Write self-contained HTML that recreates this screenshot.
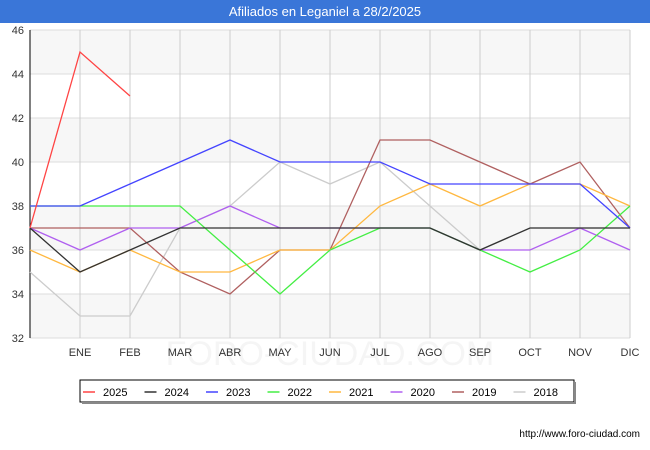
<!DOCTYPE html>
<html><head><meta charset="utf-8"><style>
body{margin:0;background:#fff;font-family:"Liberation Sans",sans-serif}
#t{position:absolute;left:0;top:0;width:650px;height:23px;background:#3a76d8;color:#fff;font-size:13px;text-align:center;line-height:23px}
</style></head><body>
<div id="t">Afiliados en Leganiel a 28/2/2025</div>
<svg id="c" width="650" height="450" style="position:absolute;left:0;top:0;z-index:-1"></svg>
<script>
const categories=["","ENE","FEB","MAR","ABR","MAY","JUN","JUL","AGO","SEP","OCT","NOV","DIC"];
const yTicks=[32,34,36,38,40,42,44,46];
const seriesNames=["2025","2024","2023","2022","2021","2020","2019","2018"];
const colors=["#ff4444","#333333","#4444ff","#44ee44","#ffb840","#b060f0","#b06060","#cccccc"];
const s2025=[37,45,43];
const s2024=[37,35,36,37,37,37,37,37,37,36,37,37,37];
const s2023=[38,38,39,40,41,40,40,40,39,39,39,39,37];
const s2022=[38,38,38,38,36,34,36,37,37,36,35,36,38];
const s2021=[36,35,36,35,35,36,36,38,39,38,39,39,38];
const s2020=[37,36,37,37,38,37,37,37,37,36,36,37,36];
const s2019=[37,37,37,35,34,36,36,41,41,40,39,40,37];
const s2018=[35,33,33,37,38,40,39,40,38,36,37,37,37];
const series=[s2025,s2024,s2023,s2022,s2021,s2020,s2019,s2018];
const svg=document.getElementById('c');const NS="http://www.w3.org/2000/svg";
const L=30,R=630,T=30,B=338;
const x=i=>L+i*(R-L)/(categories.length-1);
const y=v=>B-(v-32)*(B-T)/14;
function el(tag,a,p){const e=document.createElementNS(NS,tag);for(const k in a)e.setAttribute(k,a[k]);(p||svg).appendChild(e);return e;}
for(let i=0;i<7;i++){if(i%2==0){const r=el('rect',{x:L,y:y(yTicks[i+1]),width:R-L,height:y(yTicks[i])-y(yTicks[i+1]),fill:'#f7f7f7'});

}}
const wm=el('text',{x:330,y:365,'text-anchor':'middle','font-size':34,fill:'#f5f5f5'});wm.textContent="FORO-CIUDAD.COM";


yTicks.forEach(v=>{const g=el('line',{x1:L,x2:R,y1:y(v),y2:y(v),stroke:'#dddddd'});


const t=el('text',{x:L-6,y:y(v)+4,'text-anchor':'end','font-size':11,fill:'#333'});t.textContent=v;

});
categories.forEach((c,i)=>{if(i==0)return;const g=el('line',{x1:x(i),x2:x(i),y1:T,y2:B,stroke:'#cccccc'});


const t=el('text',{x:x(i),y:356,'text-anchor':'middle','font-size':11,fill:'#333'});t.textContent=c;

});
const ax=el('line',{x1:L,x2:L,y1:T,y2:B,stroke:'#000'});


for(let k=series.length-1;k>=0;k--){const d=series[k];
const p=el('polyline',{points:d.map((v,i)=>x(i)+','+y(v)).join(' '),fill:'none',stroke:colors[k],'stroke-width':1.3});

}
const lb=el('rect',{x:80,y:380,width:494,height:22,fill:'#fff',stroke:'#000','stroke-width':1});


el('line',{x1:82,x2:576,y1:403,y2:403,stroke:'#888','stroke-width':2});
el('line',{x1:575,x2:575,y1:382,y2:404,stroke:'#888','stroke-width':2});
seriesNames.forEach((n,k)=>{const lx=83+k*61.5;
const g=el('g',{});


el('line',{x1:lx,x2:lx+12,y1:392,y2:392,stroke:colors[k],'stroke-width':1.5},g);
const t=el('text',{x:lx+20,y:396,'font-size':11,fill:'#000'},g);t.textContent=n;});
const u=el('text',{x:640,y:437,'text-anchor':'end','font-size':10,fill:'#000'});u.textContent="http://www.foro-ciudad.com";


</script></body></html>
